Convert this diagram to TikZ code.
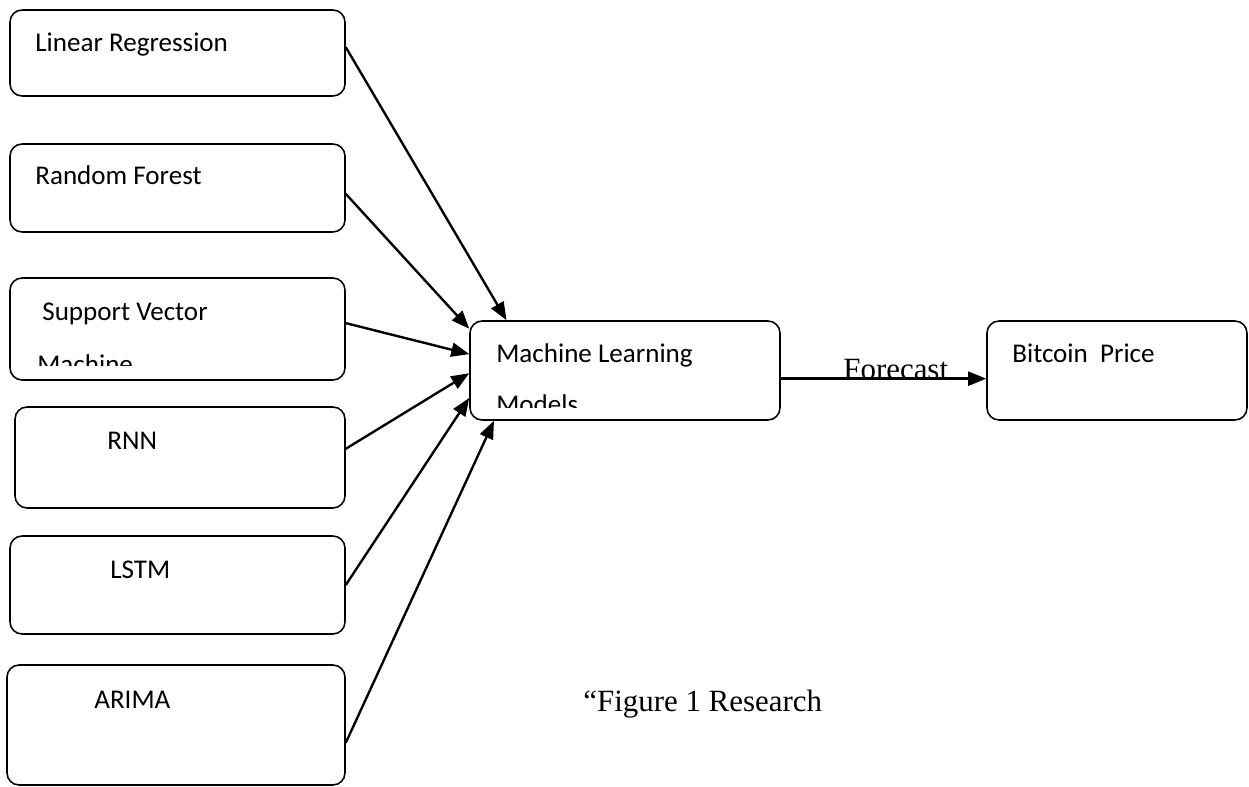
\documentclass[tikz,border=0pt]{standalone}
\usepackage{fontspec}
\setmainfont{Carlito}
\newfontfamily\serifcap{Liberation Serif}
\usetikzlibrary{arrows.meta}

\begin{document}
\begin{tikzpicture}[x=0.02cm,y=-0.02cm,>={Triangle[length=0.36cm,width=0.28cm]}]
        \tikzstyle{unit}=[draw,line width=0.9pt,rounded corners=0.24cm,inner sep=0pt,minimum width=6.7cm]
        \tikzstyle{txt}=[anchor=base west,inner sep=0pt,font=\fontsize{15.4}{18}\selectfont]
        \tikzstyle{serif}=[anchor=base west,inner sep=0pt,font=\serifcap\fontsize{17.6}{20}\selectfont]
        \tikzstyle{link}=[->,line width=1.35pt]

        \useasboundingbox (0,0) rectangle (1249,787);

        \node[unit,minimum height=1.72cm](lr) at (177.5,53){};
        \node[txt](lrtxt) at (35,52){Linear Regression};
        \node[unit,minimum height=1.76cm](rf) at (177.5,188){};
        \node[txt](rftxt) at (35,185){Random Forest};
        \node[unit,minimum height=2.04cm](svm) at (177.5,329){};
        \node[txt](svmtxt) at (42,321){Support Vector};
        \begin{scope}
            \clip (10,278) rectangle (345,366);
            \node[txt](svmtxtb) at (37,374){Machine};
        \end{scope}
        \node[unit,minimum width=6.6cm,minimum height=2.02cm](rnn) at (180,457.5){};
        \node[txt](rnntxt) at (107,450){RNN};
        \node[unit,minimum height=1.96cm](lstm) at (177.5,585){};
        \node[txt](lstmtxt) at (110,579){LSTM};
        \node[unit,minimum width=6.76cm,minimum height=2.4cm](arima) at (176,725){};
        \node[txt](arimatxt) at (94,708){ARIMA};

        \node[unit,minimum width=6.2cm,minimum height=1.98cm](ml) at (625,370.5){};
        \node[txt](mltxt) at (496,363){Machine Learning};
        \begin{scope}
            \clip (470,321) rectangle (780,408);
            \node[txt](mltxtb) at (496,414){Models};
        \end{scope}

        \node[unit,minimum width=5.2cm,minimum height=1.98cm](btc) at (1117,370.5){};
        \node[txt](btctxt) at (1012,363){Bitcoin~~Price};

        \node[serif](fc) at (843,380){Forecast};
        \node[serif](cap) at (583,711){“Figure 1 Research};

        \draw[link] (lr.2) -- (ml.157);
        \draw[link] (rf.358) -- (ml.165);
        \draw[link] (svm.2) -- (ml.174);
        \draw[link] (rnn.3) -- (ml.181);
        \draw[link] (lstm.east) -- (ml.190);
        \draw[link] (arima.-6) -- (ml.201);

        \draw[link] (ml.-3.5) -- (ml.-3.5 -| btc.west);

    \end{tikzpicture}
\end{document}
